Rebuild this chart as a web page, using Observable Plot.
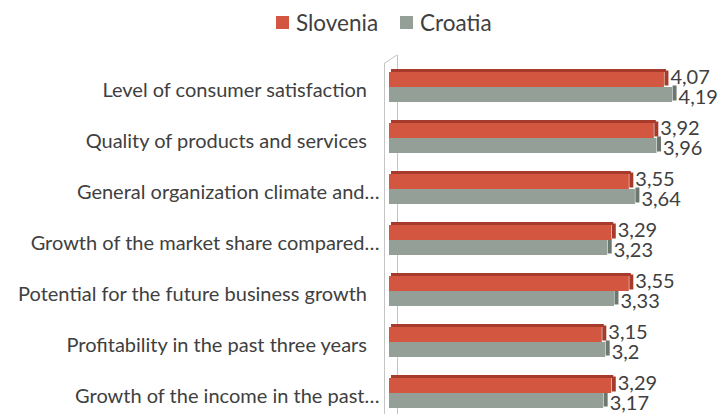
<!DOCTYPE html>
<html><head><meta charset="utf-8">
<script src="https://cdn.jsdelivr.net/npm/d3@7"></script>
<script src="https://cdn.jsdelivr.net/npm/@observablehq/plot@0.6"></script>
<style>
html,body{margin:0;padding:0;background:#fff;overflow:hidden;width:718px;height:414px}
#legend{height:45px;display:flex;align-items:center;padding-left:276px;box-sizing:border-box;font-family:Lato,sans-serif;font-size:22.5px;color:#404040}
#legend .sw{display:inline-block;width:13px;height:13px;margin-right:7px}
#legend .item{display:flex;align-items:center;margin-right:22px}
</style></head><body>
<div id="legend"></div>
<div id="chart"></div>
<script>
const categories = [
  "Level of consumer satisfaction",
  "Quality of products and services",
  "General organization climate and…",
  "Growth of the market share compared…",
  "Potential for the future business growth",
  "Profitability in the past three years",
  "Growth of the income in the past…"
];
const series = ["Slovenia", "Croatia"];
const slovenia = [4.07, 3.92, 3.55, 3.29, 3.55, 3.15, 3.29];
const croatia  = [4.19, 3.96, 3.64, 3.23, 3.33, 3.2, 3.17];
const colors = ["#d35641", "#949f97"];
const shades = ["#a63a2b", "#6b776f"];

const data = categories.flatMap((c, i) => [
  {category: c, series: series[0], value: slovenia[i]},
  {category: c, series: series[1], value: croatia[i]}
]);
const sl = data.filter(d => d.series === series[0]);
const cr = data.filter(d => d.series === series[1]);
const fmt = v => String(v).replace(".", ",");

// legend
const leg = d3.select("#legend");
series.forEach((s, i) => {
  const it = leg.append("div").attr("class", "item");
  it.append("span").attr("class", "sw").style("background", colors[i]);
  it.append("span").text(s);
});

const half = 15;
const wall = "#c4c4c4";
const chart = Plot.plot({
  width: 718,
  height: 384,
  marginLeft: 389,
  marginRight: 25,
  marginTop: 6,
  marginBottom: 0,
  x: {domain: [0, 4.5], axis: null},
  y: {domain: categories, padding: 0.41, axis: null},
  style: {fontFamily: "Lato, sans-serif", fontSize: "20px", color: "#404040", background: "#fff"},
  marks: [
    Plot.ruleX([0], {dx: -5, stroke: wall, insetTop: 12}),
    Plot.ruleX([0], {dx: 8, stroke: wall, insetTop: 4}),
    (index, scales, values, dims) => {
      const x0 = scales.x(0);
      const t = dims.marginTop;
      return d3.create("svg:path")
        .attr("d", `M${x0 - 5},${t + 12.5}L${x0 + 8},${t + 4}`)
        .attr("stroke", wall).attr("fill", "none").node();
    },
    Plot.axisY({label: null, tickSize: 0, tickPadding: 10, dy: 3.5, fill: "#404040",
      tickFormat: d => d.endsWith("…") ? d : d + "\u2002\u2009"}),
    // side faces
    Plot.tickX(cr, {x: "value", y: "category", stroke: shades[1], strokeWidth: 4, dx: 2, dy: -1.5, insetTop: half}),
    Plot.barX(sl, {x: "value", y: "category", fill: shades[0], insetBottom: 2 * half - 3, dx: 2, dy: -3}),
    Plot.tickX(sl, {x: "value", y: "category", stroke: shades[0], strokeWidth: 4, dx: 2, dy: -1.5, insetBottom: half}),
    // fronts
    Plot.barX(sl, {x: "value", y: "category", fill: colors[0], insetBottom: half}),
    Plot.barX(cr, {x: "value", y: "category", fill: colors[1], insetTop: half}),
    // labels
    Plot.text(sl, {x: "value", y: "category", text: d => fmt(d.value), textAnchor: "start", dx: 6, dy: -half / 2 - 2, fill: "#404040"}),
    Plot.text(cr, {x: "value", y: "category", text: d => fmt(d.value), textAnchor: "start", dx: 6, dy: half / 2 + 3, fill: "#404040"})
  ]
});
document.getElementById("chart").appendChild(chart);
</script>
</body></html>
